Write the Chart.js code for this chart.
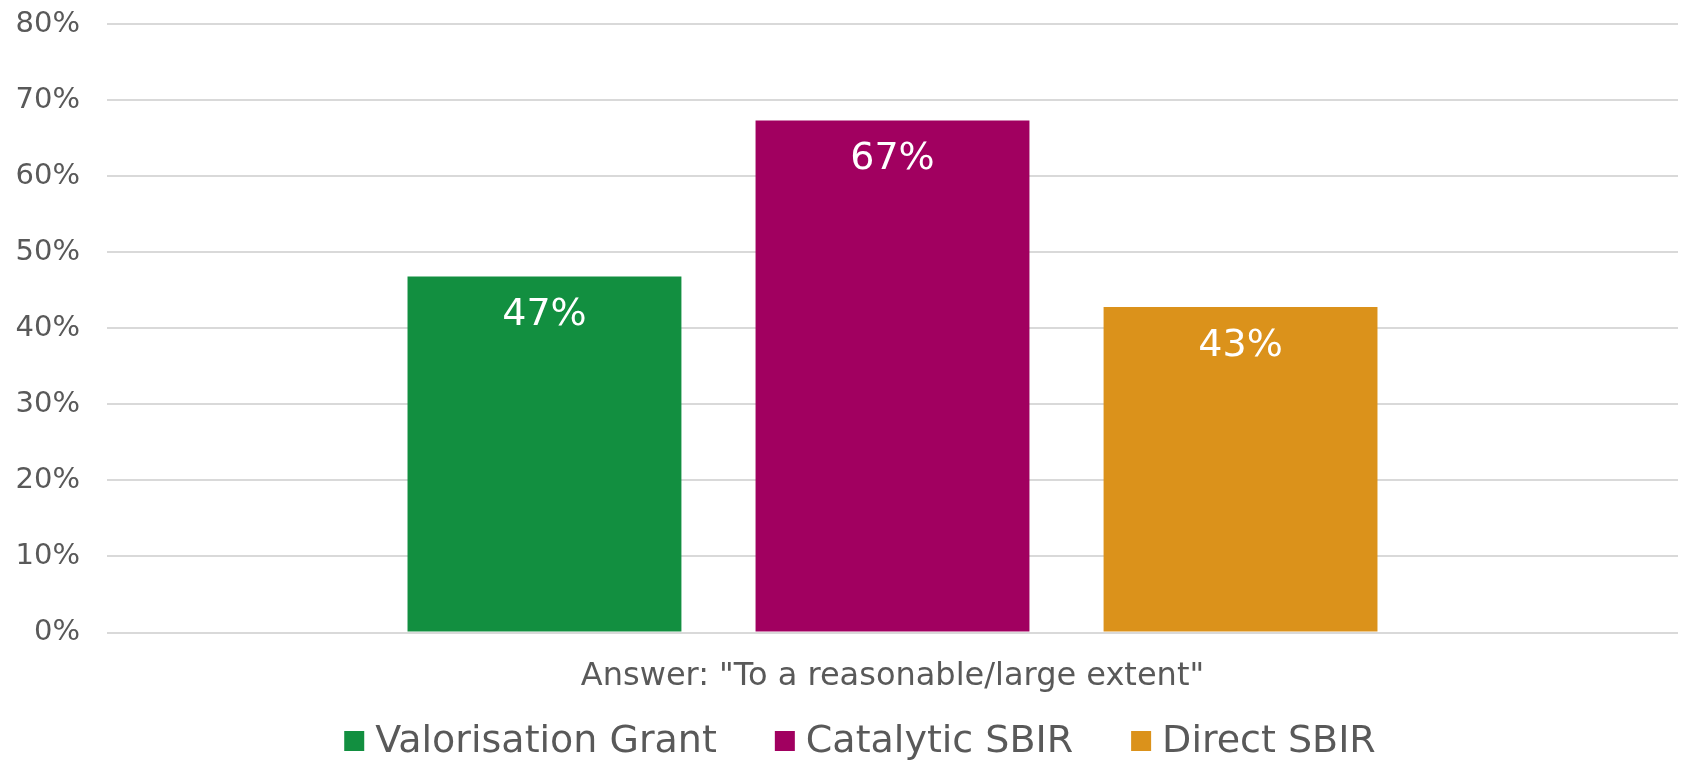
<!DOCTYPE html>
<html>
<head>
<meta charset="utf-8">
<script src="https://cdn.jsdelivr.net/npm/chart.js@4.4.1/dist/chart.umd.min.js"></script>
<style>
  html, body { margin: 0; padding: 0; background: #ffffff; }
  #wrap { width: 1681px; height: 761px; position: relative; }
</style>
</head>
<body>
<div id="wrap"><canvas id="chart"></canvas></div>
<script>
// ---- data ----
const categories = ['Answer: "To a reasonable/large extent"'];
const seriesNames = ['Valorisation Grant', 'Catalytic SBIR', 'Direct SBIR'];
const valorisationGrant = [46.8];
const catalyticSbir = [67.3];
const directSbir = [42.8];
const seriesColors = ['#128F40', '#A10060', '#DB921B'];
const yTicks = [0, 10, 20, 30, 40, 50, 60, 70, 80];

const textColor = '#595959';
const fontFamily = '"DejaVu Sans", Verdana, sans-serif';

// white value labels just inside the top of each bar
const barLabels = {
    id: 'barLabels',
    afterDatasetsDraw(chart) {
        const ctx = chart.ctx;
        ctx.save();
        ctx.font = '38px ' + fontFamily;
        ctx.fillStyle = '#ffffff';
        ctx.textAlign = 'center';
        ctx.textBaseline = 'middle';
        chart.data.datasets.forEach((ds, i) => {
            chart.getDatasetMeta(i).data.forEach((bar, j) => {
                ctx.fillText(Math.round(ds.data[j]) + '%', bar.x, bar.y + 39);
            });
        });
        ctx.restore();
    }
};

// legend drawn by hand so the box/text spacing matches the original
const bottomLegend = {
    id: 'bottomLegend',
    afterDraw(chart) {
        const ctx = chart.ctx;
        const box = 20, gap = 11, itemGap = 58;
        const cx = 860, cy = 741;
        ctx.save();
        ctx.font = '38px ' + fontFamily;
        ctx.textBaseline = 'middle';
        ctx.textAlign = 'left';
        const items = chart.data.datasets.map(ds => ({
            text: ds.label, color: ds.backgroundColor, w: ctx.measureText(ds.label).width
        }));
        let total = items.reduce((s, it) => s + box + gap + it.w, 0) + itemGap * (items.length - 1);
        let x = cx - total / 2;
        items.forEach(it => {
            ctx.fillStyle = it.color;
            ctx.fillRect(x, cy - box / 2, box, box);
            ctx.fillStyle = textColor;
            ctx.fillText(it.text, x + box + gap, cy + 1);
            x += box + gap + it.w + itemGap;
        });
        ctx.restore();
    }
};

const datasets = [valorisationGrant, catalyticSbir, directSbir].map((vals, i) => ({
    label: seriesNames[i],
    data: vals,
    backgroundColor: seriesColors[i],
    borderWidth: 0,
    categoryPercentage: 0.6646,
    barPercentage: 0.787
}));

new Chart(document.getElementById('chart'), {
    type: 'bar',
    data: { labels: categories, datasets: datasets },
    plugins: [barLabels, bottomLegend],
    options: {
        responsive: true,
        maintainAspectRatio: false,
        animation: false,
        layout: { padding: { left: 0, right: 3, top: 24, bottom: 0 } },
        plugins: {
            legend: { display: false },
            tooltip: { enabled: false }
        },
        scales: {
            x: {
                grid: { display: false, drawTicks: false },
                border: { display: false },
                ticks: {
                    color: textColor,
                    font: { family: fontFamily, size: 32 },
                    padding: 25,
                    maxRotation: 0
                },
                afterFit(scale) { scale.height = 128.5; }
            },
            y: {
                min: 0,
                max: 80,
                afterBuildTicks(scale) { scale.ticks = yTicks.map(v => ({ value: v })); },
                // invisible tick marks give the label gap without padding the top
                grid: { color: '#D9D9D9', lineWidth: 2, drawTicks: true, tickLength: 27, tickColor: 'rgba(0,0,0,0)' },
                border: { display: false },
                ticks: {
                    color: textColor,
                    font: { family: fontFamily, size: 29 },
                    padding: 0,
                    callback: v => v + '%'
                },
                afterFit(scale) { scale.width = 107; }
            }
        }
    }
});
</script>
</body>
</html>
